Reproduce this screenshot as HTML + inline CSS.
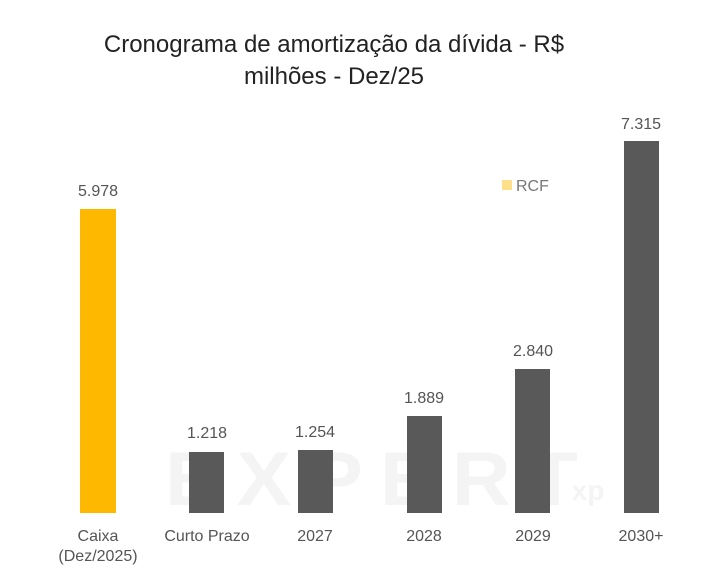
<!DOCTYPE html><html><head><style>body{margin:0;background:#fff;}</style></head><body>
<svg width="706" height="582" xmlns="http://www.w3.org/2000/svg" font-family="Liberation Sans, sans-serif">
<rect width="706" height="582" fill="#fff"/>
<text x="334" y="52" text-anchor="middle" font-size="24" fill="#222">Cronograma de amortização da dívida - R$</text>
<text x="334" y="84" text-anchor="middle" font-size="24" fill="#222">milhões - Dez/25</text>
<text x="380" y="505" text-anchor="middle" font-size="76" font-weight="bold" fill="#f4f4f4" letter-spacing="16" textLength="430" lengthAdjust="spacingAndGlyphs">EXPERT</text>
<text x="588" y="500" text-anchor="middle" font-size="28" font-weight="bold" fill="#f4f4f4">xp</text>
<g fill="#595959">
<rect x="189" y="452" width="35" height="61"/>
<rect x="298" y="450" width="35" height="63"/>
<rect x="407" y="416" width="35" height="97"/>
<rect x="515" y="369" width="35" height="144"/>
<rect x="624" y="141" width="35" height="372"/>
</g>
<rect x="80" y="209" width="36" height="304" fill="#ffb800"/>
<rect x="502" y="180" width="10" height="10" fill="#ffe08a"/>
<text x="516" y="191" font-size="16" fill="#777">RCF</text>
<g font-size="16" fill="#555" text-anchor="middle">
<text x="98" y="196">5.978</text>
<text x="207" y="438">1.218</text>
<text x="315" y="437">1.254</text>
<text x="424" y="403">1.889</text>
<text x="533" y="356">2.840</text>
<text x="641" y="129">7.315</text>
<text x="98" y="541">Caixa</text>
<text x="98" y="561">(Dez/2025)</text>
<text x="207" y="541">Curto Prazo</text>
<text x="315" y="541">2027</text>
<text x="424" y="541">2028</text>
<text x="533" y="541">2029</text>
<text x="641" y="541">2030+</text>
</g>
</svg></body></html>
